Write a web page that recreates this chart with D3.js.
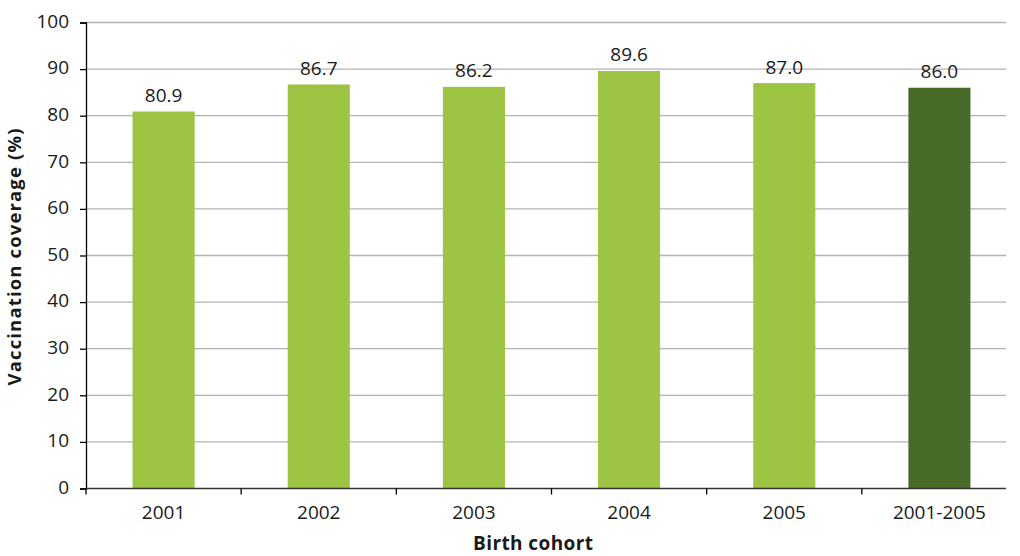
<!DOCTYPE html>
<html><head><meta charset="utf-8">
<script src="https://cdn.jsdelivr.net/npm/d3@7"></script>
<style>body{margin:0;background:#fff}svg{display:block}text{font-family:"Open Sans","Noto Sans",sans-serif;fill:#1a1a1a}</style>
</head><body><svg id="c" width="1020" height="556"></svg>
<script>
const categories = ["2001","2002","2003","2004","2005","2001-2005"];
const values = [80.9, 86.7, 86.2, 89.6, 87.0, 86.0];
const yTicks = [0,10,20,30,40,50,60,70,80,90,100];
const colors = ["#9dc442","#9dc442","#9dc442","#9dc442","#9dc442","#486b2a"];

const FS = 19;
const svg = d3.select("#c");
const x0 = 86, x1 = 1017, gridEnd = 1006;
const y = d3.scaleLinear().domain([0,100]).range([488.5,22.5]);
const x = d3.scaleBand().domain(categories).range([x0,x1]).paddingInner(0.6).paddingOuter(0.3);

// gridlines
svg.append("g").selectAll("line").data(yTicks.filter(d=>d>0)).join("line")
  .attr("x1",x0).attr("x2",gridEnd).attr("y1",d=>y(d)).attr("y2",d=>y(d))
  .attr("stroke","#b3b3b3").attr("stroke-width",1.3);

// bars
svg.append("g").selectAll("rect").data(values).join("rect")
  .attr("x",(d,i)=>x(categories[i])).attr("width",x.bandwidth())
  .attr("y",d=>y(d)).attr("height",d=>y(0)-y(d))
  .attr("fill",(d,i)=>colors[i]);

// value labels
svg.append("g").selectAll("text").data(values).join("text")
  .attr("x",(d,i)=>x(categories[i])+x.bandwidth()/2).attr("y",d=>y(d)-9.5)
  .attr("text-anchor","middle").attr("font-size",FS).text(d=>d.toFixed(1));

// y axis
const ya = svg.append("g").attr("transform",`translate(${x0},0)`)
  .call(d3.axisLeft(y).tickValues(yTicks).tickSize(6).tickPadding(11));
ya.select(".domain").attr("stroke","#000").attr("stroke-width",1.3);
ya.selectAll(".tick line").attr("stroke","#000").attr("stroke-width",1.3);
ya.selectAll("text").attr("font-size",FS).attr("dy","0.25em").attr("fill","#1a1a1a").style("font-family",'"Open Sans","Noto Sans",sans-serif');

// x axis
const xb = d3.scaleLinear().domain([0,6]).range([x0,x1]);
const xa = svg.append("g").attr("transform",`translate(0,${y(0)})`);
xa.append("line").attr("x1",x0).attr("x2",gridEnd).attr("y1",0).attr("y2",0).attr("stroke","#333").attr("stroke-width",1.3);
xa.selectAll("line.t").data(d3.range(0,6)).join("line").attr("class","t")
  .attr("x1",d=>xb(d)).attr("x2",d=>xb(d)).attr("y1",0).attr("y2",6).attr("stroke","#000").attr("stroke-width",1.3);
xa.selectAll("text").data(categories).join("text")
  .attr("x",d=>x(d)+x.bandwidth()/2).attr("y",30).attr("text-anchor","middle").attr("font-size",FS).text(d=>d);

// axis titles
svg.append("text").attr("x",533).attr("y",550).attr("text-anchor","middle")
  .attr("font-size",19).attr("font-weight","bold")
  .attr("textLength",120).attr("lengthAdjust","spacing").text("Birth cohort");
svg.append("text").attr("transform","translate(20.5,257) rotate(-90)").attr("text-anchor","middle")
  .attr("font-size",18.5).attr("font-weight","bold")
  .attr("textLength",257).attr("lengthAdjust","spacing").text("Vaccination coverage (%)");
</script></body></html>
